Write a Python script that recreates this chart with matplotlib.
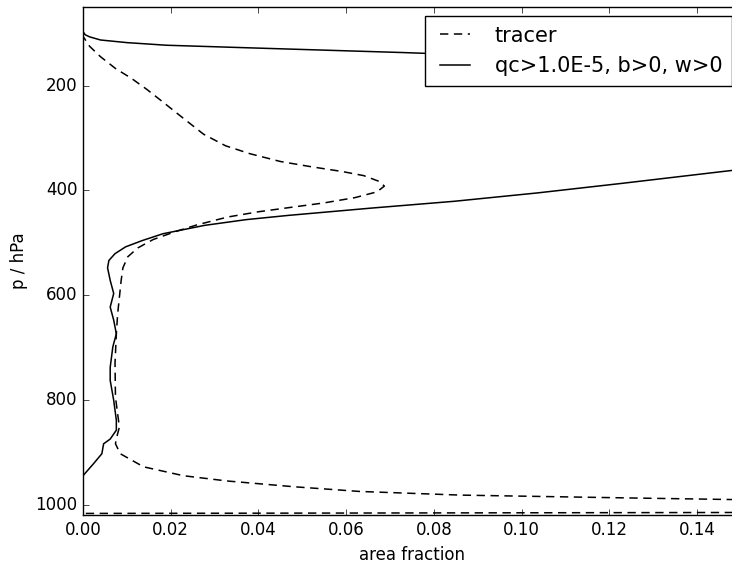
import matplotlib
matplotlib.use('Agg')
import matplotlib.pyplot as plt

# tracer area fraction, pressure in hPa
p_tracer = [100, 106, 125, 145, 168, 186, 207, 230, 260, 293, 315, 330, 345, 355, 364,
            372, 383, 392, 403, 414, 424, 433, 441, 451, 466, 479, 494, 510, 527, 548,
            572, 604, 636, 674, 730, 795, 827, 852, 871, 884, 903, 928, 945, 955, 966,
            975, 982, 984, 987.5, 990.5, 1006, 1017]
tracer = [0.0, 0.0, 0.0015, 0.004, 0.0075, 0.011, 0.0145, 0.018, 0.0225, 0.0275, 0.0325,
          0.038, 0.045, 0.052, 0.059, 0.064, 0.0675, 0.0687, 0.067, 0.062, 0.055, 0.047,
          0.040, 0.033, 0.026, 0.021, 0.016, 0.0125, 0.0102, 0.0091, 0.0087, 0.0083,
          0.0079, 0.0076, 0.0073, 0.0074, 0.0079, 0.0083, 0.0077, 0.0074, 0.0085, 0.0138,
          0.0229, 0.0328, 0.048, 0.063, 0.086, 0.10, 0.125, 0.148, 0.9, 0.0]

# cloudy updraft area fraction (qc>1.0E-5, b>0, w>0)
p_cloud = [50, 97, 103, 107, 113, 118, 123, 128, 137, 148, 161, 250, 300, 362, 387, 405,
           421, 434, 448, 456, 467, 483, 496, 508, 521, 534, 548, 572, 597, 610, 623, 648,
           674, 699, 738, 763, 801, 839, 858, 875, 884, 903, 922, 945, 1020]
cloud = [0.0, 0.0, 0.0005, 0.0015, 0.004, 0.01, 0.019, 0.038, 0.073, 0.11, 0.148, 0.4,
         0.3, 0.148, 0.1226, 0.1036, 0.0846, 0.0657, 0.0467, 0.0372, 0.0277, 0.0182,
         0.0135, 0.0097, 0.0073, 0.0059, 0.0056, 0.0062, 0.0070, 0.0066, 0.0062, 0.0070,
         0.0076, 0.0068, 0.0062, 0.0062, 0.0070, 0.0076, 0.0076, 0.0062, 0.0047, 0.0043,
         0.0024, 0.0, 0.0]

plt.style.use('classic')
fig = plt.figure(figsize=(7.32, 5.64), dpi=100)
fig.patch.set_facecolor('white')
# axes runs a bit past the right edge, like the cropped original
ax = fig.add_axes([83/732., 49/564., 658/732., 508/564.])

ax.plot(tracer, p_tracer, color='k', linestyle='--', dashes=(6, 4), lw=1.1, label='tracer')
ax.plot(cloud, p_cloud, color='k', linestyle='-', lw=1.1, label='qc>1.0E-5, b>0, w>0')

ax.set_xlim(0, 0.15)
ax.set_ylim(1020, 50)
ax.set_xticks([0.0, 0.02, 0.04, 0.06, 0.08, 0.10, 0.12, 0.14])
ax.set_yticks([200, 400, 600, 800, 1000])
ax.set_xlabel('area fraction')
ax.set_ylabel('p / hPa')
ax.legend(loc='upper right', fontsize=15, handlelength=2.0, handletextpad=0.9,
          borderaxespad=0.45, borderpad=0.45)

fig.savefig('out.png', dpi=100, facecolor='white')
